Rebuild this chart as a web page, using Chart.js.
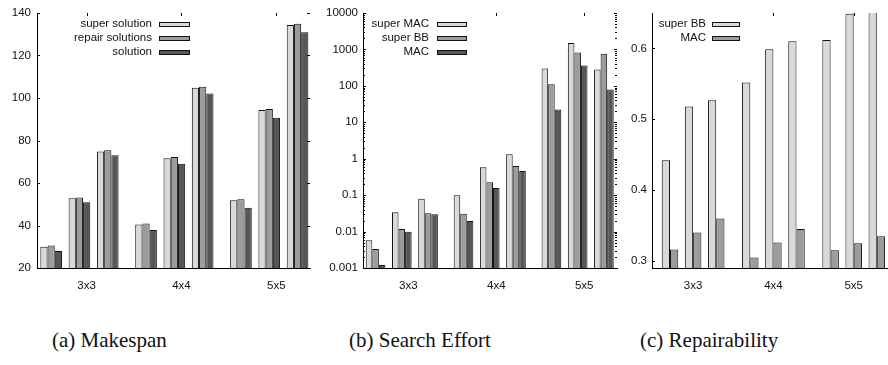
<!DOCTYPE html>
<html><head><meta charset="utf-8">
<script src="https://cdn.jsdelivr.net/npm/chart.js@4.4.0/dist/chart.umd.min.js"></script>
<style>
html,body{margin:0;padding:0;background:#fff;}
#wrap{position:relative;width:888px;height:365px;overflow:hidden;background:#fff;}
#wrap canvas{position:absolute;top:0;}
.cap{position:absolute;top:328px;font-family:"Liberation Serif","Times New Roman",serif;font-size:21px;color:#111;white-space:nowrap;line-height:25px;}
</style></head><body>
<div id="wrap">
  <canvas id="ca" width="312" height="300" style="left:0px"></canvas>
  <canvas id="cb" width="306" height="300" style="left:312px"></canvas>
  <canvas id="cc" width="270" height="300" style="left:618px"></canvas>
  <div class="cap" style="left:52px">(a) Makespan</div>
  <div class="cap" style="left:349px">(b) Search Effort</div>
  <div class="cap" style="left:640px">(c) Repairability</div>
</div>
<script>
// ---------- data ----------
const categories = ['3x3', '4x4', '5x5'];

// (a) Makespan — 3 clusters per category
const makespanSuperSolution   = [30.0, 52.8, 74.8, 40.5, 71.7, 104.8, 51.9, 94.3, 134.4];
const makespanRepairSolutions = [30.6, 53.2, 75.4, 41.0, 72.2, 105.3, 52.3, 94.8, 134.9];
const makespanSolution        = [28.0, 51.0, 73.1, 37.9, 69.1, 102.1, 48.4, 90.7, 131.0];

// (b) Search Effort (log scale)
const effortSuperMAC = [0.0058, 0.034, 0.080, 0.100, 0.58, 1.32, 300, 1500, 280];
const effortSuperBB  = [0.0033, 0.0117, 0.032, 0.031, 0.225, 0.63, 110, 820, 760];
const effortMAC      = [0.0012, 0.0099, 0.030, 0.0195, 0.158, 0.46, 22.5, 360, 80];

// (c) Repairability
const repairSuperBB = [0.442, 0.518, 0.527, 0.552, 0.599, 0.610, 0.612, 0.649, 0.651];
const repairMAC     = [0.316, 0.340, 0.360, 0.305, 0.326, 0.345, 0.315, 0.325, 0.335];

// tick labels
const makespanTicks = [20, 40, 60, 80, 100, 120, 140];
const effortTicks   = [0.001, 0.01, 0.1, 1, 10, 100, 1000, 10000];
const repairTicks   = [0.3, 0.4, 0.5, 0.6];

// ---------- styling ----------
const SANS = '"Liberation Sans", Arial, Helvetica, sans-serif';
const FONT_SIZE = 11.5;
const TEXT = '#111';
const LIGHT = '#d9d9d9', MID = '#9c9c9c', DARK = '#575757';

function clusterPoints(values, catGap) {
  return values.map((v, i) => ({ x: Math.floor(i / 3) * catGap + (i % 3), y: v }));
}
function bars(label, values, color, catGap, catPct) {
  return {
    label, data: clusterPoints(values, catGap),
    backgroundColor: color, borderColor: '#111', borderWidth: 1,
    borderSkipped: 'start', categoryPercentage: catPct, barPercentage: 1
  };
}

// inward ticks (left, mirrored right, top at categories)
const inwardTicks = {
  id: 'inwardTicks',
  afterDatasetsDraw(chart, args, o) {
    const { ctx, chartArea: a, scales: { x, y } } = chart;
    ctx.save();
    ctx.strokeStyle = '#000'; ctx.lineWidth = 1;
    const seg = (x1, y1, x2, y2) => { ctx.beginPath(); ctx.moveTo(x1, y1); ctx.lineTo(x2, y2); ctx.stroke(); };
    y.ticks.forEach(t => {
      const py = Math.round(y.getPixelForValue(t.value)) + 0.5;
      seg(a.left, py, a.left + o.len, py);
      if (o.right) seg(a.right, py, a.right - o.len, py);
    });
    (o.minor || []).forEach(v => {
      const py = Math.round(y.getPixelForValue(v)) + 0.5;
      seg(a.left, py, a.left + o.minorLen, py);
      if (o.right) seg(a.right, py, a.right - o.minorLen, py);
    });
    x.ticks.forEach((t, i) => {
      if ((o.skipTop || []).includes(i)) return;
      const px = Math.round(x.getPixelForValue(t.value)) + 0.5;
      seg(px, a.top, px, a.top + o.len);
    });
    ctx.restore();
  }
};

// gnuplot-style key: text right-aligned, then sample box
const sideLegend = {
  id: 'sideLegend',
  afterDraw(chart, args, o) {
    const ctx = chart.ctx;
    ctx.save();
    ctx.font = FONT_SIZE + 'px ' + SANS;
    ctx.textAlign = 'right'; ctx.textBaseline = 'middle';
    chart.data.datasets.forEach((ds, i) => {
      const yy = o.y0 + i * o.dy;
      ctx.fillStyle = TEXT;
      ctx.fillText(ds.label, o.textRight, yy);
      const by = Math.round(yy - 2);
      ctx.fillStyle = ds.backgroundColor;
      ctx.fillRect(o.boxLeft, by, o.boxW, 4);
      ctx.strokeStyle = '#111'; ctx.lineWidth = 1;
      ctx.strokeRect(o.boxLeft + 0.5, by + 0.5, o.boxW, 4);
    });
    ctx.restore();
  }
};

function makeChart(id, cfg) {
  const font = { family: SANS, size: FONT_SIZE };
  return new Chart(document.getElementById(id), {
    type: 'bar',
    data: { datasets: cfg.datasets },
    options: {
      responsive: false, animation: false, events: [],
      layout: { padding: { left: 0, right: cfg.padRight, top: 13, bottom: 0 } },
      plugins: {
        legend: { display: false }, tooltip: { enabled: false },
        inwardTicks: cfg.ticksOpt, sideLegend: cfg.legendOpt
      },
      scales: {
        x: {
          type: 'linear', min: cfg.xMin, max: cfg.xMax, offset: false, bounds: 'data',
          grid: { display: false, drawTicks: false },
          border: { display: true, color: '#000', width: 1 },
          afterBuildTicks: s => { s.ticks = categories.map((c, i) => ({ value: i * cfg.G + 1 + cfg.tickOff })); },
          afterFit: s => { s.height = 300 - 268; },
          ticks: { autoSkip: false, maxRotation: 0, padding: 11, color: TEXT, font,
                   callback: (v, i) => categories[i] }
        },
        y: Object.assign({
          grid: { display: false, drawTicks: false },
          border: { display: true, color: '#000', width: 1 },
          afterFit: s => { s.width = cfg.yWidth; },
          afterBuildTicks: s => { s.ticks = cfg.yTicks.map(v => ({ value: v })); },
          ticks: { autoSkip: false, padding: cfg.yPad, color: TEXT, font, callback: cfg.yFmt }
        }, cfg.yScale)
      }
    },
    plugins: [inwardTicks, sideLegend]
  });
}

// minor ticks for log axis
const effortMinor = [];
effortTicks.slice(0, -1).forEach(d => { for (let m = 2; m <= 9; m++) effortMinor.push(m * d); });

const GA = 3.353, GC = 3.476;

makeChart('ca', {
  G: GA, tickOff: 0.25, xMin: -0.5, xMax: 2 * GA + 2 + 0.44, padRight: 2,
  yWidth: 37, yPad: 6, yTicks: makespanTicks, yFmt: v => String(v),
  yScale: { type: 'linear', min: 20, max: 140 },
  datasets: [
    bars('super solution', makespanSuperSolution, LIGHT, GA, 0.765),
    bars('repair solutions', makespanRepairSolutions, MID, GA, 0.765),
    bars('solution', makespanSolution, DARK, GA, 0.765)
  ],
  ticksOpt: { len: 3, right: true },
  legendOpt: { textRight: 152, boxLeft: 159, boxW: 30, y0: 24, dy: 13.8 }
});

makeChart('cb', {
  G: GA, tickOff: 0.25, xMin: -0.48, xMax: 2 * GA + 2 + 0.5, padRight: 1,
  yWidth: 51, yPad: 5, yTicks: effortTicks, yFmt: v => String(v),
  yScale: { type: 'logarithmic', min: 0.001, max: 10000 },
  datasets: [
    bars('super MAC', effortSuperMAC, LIGHT, GA, 0.75),
    bars('super BB', effortSuperBB, MID, GA, 0.75),
    bars('MAC', effortMAC, DARK, GA, 0.75)
  ],
  ticksOpt: { len: 3, minorLen: 2, right: true, minor: effortMinor, skipTop: [0] },
  legendOpt: { textRight: 117, boxLeft: 125, boxW: 29, y0: 24, dy: 13.8 }
});

makeChart('cc', {
  G: GC, tickOff: 0, xMin: -0.78, xMax: 2 * GC + 2 + 0.485, padRight: 0,
  yWidth: 34, yPad: 5, yTicks: repairTicks, yFmt: v => v.toFixed(1),
  yScale: { type: 'linear', min: 0.29, max: 0.65 },
  datasets: [
    bars('super BB', repairSuperBB, LIGHT, GC, 0.715),
    bars('MAC', repairMAC, MID, GC, 0.715)
  ],
  ticksOpt: { len: 3, right: false, skipTop: [0] },
  legendOpt: { textRight: 88, boxLeft: 94, boxW: 27, y0: 23.5, dy: 14 }
});
</script>
</body></html>
